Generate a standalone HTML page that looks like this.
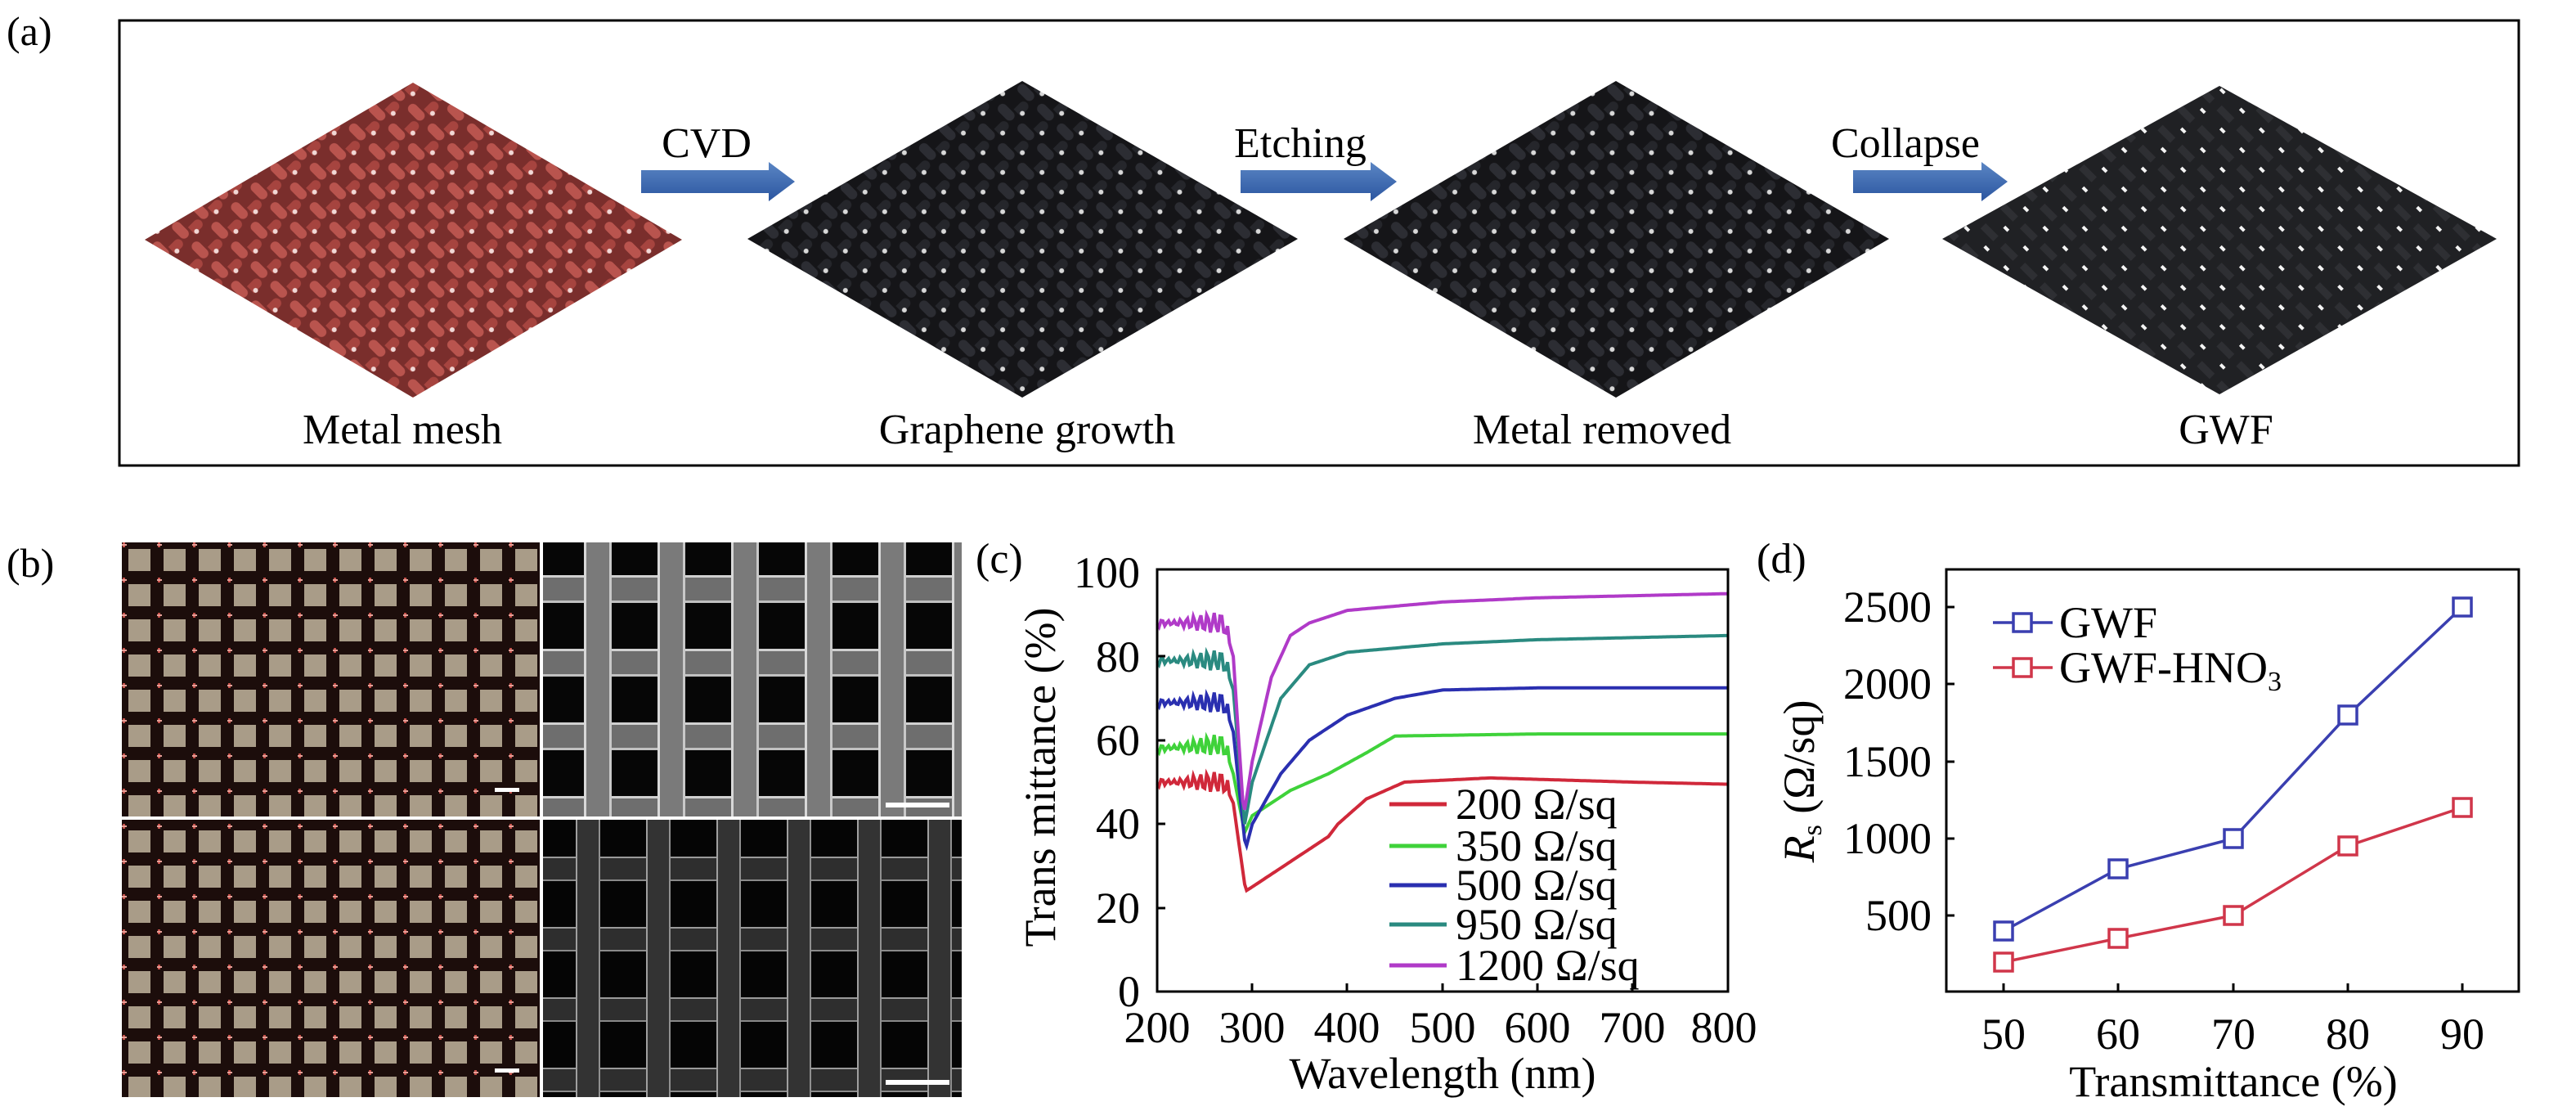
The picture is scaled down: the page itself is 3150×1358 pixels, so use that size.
<!DOCTYPE html>
<html><head><meta charset="utf-8"><style>
html,body{margin:0;padding:0;background:#fff;}
svg{display:block;}
</style></head><body>
<svg id="s" width="3150" height="1358" viewBox="0 0 3150 1358" xmlns="http://www.w3.org/2000/svg" font-family="Liberation Serif, serif">
<defs>
<pattern id="pr" width="34" height="34" patternUnits="userSpaceOnUse" patternTransform="rotate(45)">
<rect width="34" height="34" fill="#7a2e2c"/><rect x="3" y="3" width="24" height="12" rx="6" fill="#b9544e"/><rect x="19" y="17" width="12" height="24" rx="6" fill="#a6443f"/><circle cx="30" cy="30" r="3" fill="#f1d8d6"/></pattern>
<pattern id="pb" width="34" height="34" patternUnits="userSpaceOnUse" patternTransform="rotate(45)">
<rect width="34" height="34" fill="#151518"/><rect x="3" y="3" width="24" height="12" rx="6" fill="#2c2d33"/><rect x="19" y="17" width="12" height="24" rx="6" fill="#25262b"/><circle cx="30" cy="30" r="3" fill="#d8d8d8"/></pattern>
<pattern id="pg" width="34" height="34" patternUnits="userSpaceOnUse" patternTransform="rotate(45)">
<rect width="34" height="34" fill="#202124"/><rect x="6" y="6" width="22" height="9" fill="#2e2f33"/><rect x="25" y="25" width="7" height="4" fill="#f4f4f4"/></pattern>
<pattern id="opt" x="149" y="663" width="43" height="43" patternUnits="userSpaceOnUse">
<rect width="43" height="43" fill="#1c0d0b"/><rect x="8" y="8" width="27" height="27" fill="#a99c88"/><rect x="1" y="0" width="3" height="6" fill="#c4504a"/><rect x="0" y="2" width="6" height="2" fill="#e6a098"/></pattern>
<pattern id="sem" x="664" y="663" width="90" height="90" patternUnits="userSpaceOnUse">
<rect width="90" height="90" fill="#060606"/><rect x="0" y="40" width="90" height="34" fill="#6e6e6e"/><rect x="0" y="40" width="90" height="3" fill="#d0d0d0"/><rect x="0" y="71" width="90" height="3" fill="#c0c0c0"/><rect x="50" y="0" width="34" height="90" fill="#7a7a7a"/><rect x="50" y="0" width="3" height="90" fill="#d8d8d8"/><rect x="81" y="0" width="3" height="90" fill="#c8c8c8"/></pattern>
<pattern id="sem2" x="664" y="1002" width="86" height="86" patternUnits="userSpaceOnUse">
<rect width="86" height="86" fill="#050505"/><rect x="0" y="45" width="86" height="30" fill="#2e2e2e"/><rect x="0" y="45" width="86" height="2" fill="#9a9a9a"/><rect x="0" y="73" width="86" height="2" fill="#8a8a8a"/><rect x="40" y="0" width="30" height="86" fill="#333"/><rect x="40" y="0" width="2" height="86" fill="#a0a0a0"/><rect x="68" y="0" width="2" height="86" fill="#909090"/></pattern>
<linearGradient id="ag" x1="0" y1="0" x2="0" y2="1"><stop offset="0" stop-color="#5b86c4"/><stop offset="1" stop-color="#2b55a0"/></linearGradient>
</defs>
<!-- (a) -->
<text x="8" y="55" font-size="50">(a)</text>
<rect x="146" y="25" width="2934" height="544" fill="none" stroke="#000" stroke-width="3"/>
<polygon points="505,101 834,293 505,486 177,293" fill="url(#pr)"/>
<polygon points="1250,99 1587,292 1250,486 914,292" fill="url(#pb)"/>
<polygon points="1976,99 2310,292 1976,486 1643,292" fill="url(#pb)"/>
<polygon points="2714,105 3053,292 2714,482 2375,292" fill="url(#pg)"/>
<polygon points="784,208 940,208 940,198 972,222 940,246 940,236 784,236" fill="url(#ag)"/>
<polygon points="1517,208 1676,208 1676,198 1708,222 1676,246 1676,236 1517,236" fill="url(#ag)"/>
<polygon points="2266,208 2423,208 2423,198 2455,222 2423,246 2423,236 2266,236" fill="url(#ag)"/>
<g font-size="52" text-anchor="middle">
<text x="864" y="192">CVD</text><text x="1590" y="192">Etching</text><text x="2330" y="192">Collapse</text>
<text x="492" y="542">Metal mesh</text><text x="1256" y="542">Graphene growth</text><text x="1959" y="542">Metal removed</text><text x="2722" y="542">GWF</text>
</g>
<!-- (b) -->
<text x="8" y="705" font-size="50">(b)</text>
<rect x="149" y="663" width="511" height="335" fill="url(#opt)"/>
<rect x="149" y="1002" width="511" height="339" fill="url(#opt)"/>
<rect x="664" y="663" width="512" height="335" fill="url(#sem)"/>
<rect x="664" y="1002" width="512" height="339" fill="url(#sem2)"/>
<rect x="605" y="963" width="30" height="5" fill="#fff"/><rect x="605" y="1306" width="30" height="5" fill="#fff"/>
<rect x="1083" y="981" width="78" height="6" fill="#fff"/><rect x="1083" y="1320" width="78" height="6" fill="#fff"/>
<!-- (c) -->
<text x="1193" y="700" font-size="52">(c)</text>
<g id="cl" fill="none" stroke-width="4"></g>
<rect x="1415" y="696" width="698" height="516" fill="none" stroke="#000" stroke-width="3"/>
<g stroke="#000" stroke-width="3">
<line x1="1415" y1="1007" x2="1425" y2="1007"/><line x1="1415" y1="905" x2="1425" y2="905"/><line x1="1415" y1="802" x2="1425" y2="802"/><line x1="1415" y1="1110" x2="1425" y2="1110"/>
<line x1="1531" y1="1212" x2="1531" y2="1202"/><line x1="1647" y1="1212" x2="1647" y2="1202"/><line x1="1764" y1="1212" x2="1764" y2="1202"/><line x1="1880" y1="1212" x2="1880" y2="1202"/><line x1="1996" y1="1212" x2="1996" y2="1202"/>
</g>
<g font-size="54" text-anchor="end">
<text x="1394" y="718">100</text><text x="1394" y="821">80</text><text x="1394" y="923">60</text><text x="1394" y="1025">40</text><text x="1394" y="1128">20</text><text x="1394" y="1230">0</text>
</g>
<g font-size="54" text-anchor="middle">
<text x="1415" y="1274">200</text><text x="1531" y="1274">300</text><text x="1647" y="1274">400</text><text x="1764" y="1274">500</text><text x="1880" y="1274">600</text><text x="1996" y="1274">700</text><text x="2108" y="1274">800</text>
<text x="1764" y="1330">Wavelength (nm)</text>
<text transform="translate(1290,950) rotate(-90)">Trans mittance (%)</text>
</g>
<g stroke-width="5">
<line x1="1699" y1="983" x2="1769" y2="983" stroke="#d0283a"/><line x1="1699" y1="1034" x2="1769" y2="1034" stroke="#3fd23a"/><line x1="1699" y1="1082" x2="1769" y2="1082" stroke="#2a2fb0"/><line x1="1699" y1="1130" x2="1769" y2="1130" stroke="#2a8a80"/><line x1="1699" y1="1180" x2="1769" y2="1180" stroke="#b03ac8"/>
</g>
<g font-size="54">
<text x="1780" y="1001">200 Ω/sq</text><text x="1780" y="1052">350 Ω/sq</text><text x="1780" y="1100">500 Ω/sq</text><text x="1780" y="1148">950 Ω/sq</text><text x="1780" y="1198">1200 Ω/sq</text>
</g>
<!-- (d) -->
<text x="2148" y="700" font-size="52">(d)</text>
<rect x="2380" y="696" width="700" height="516" fill="none" stroke="#000" stroke-width="3"/>
<g stroke="#000" stroke-width="3">
<line x1="2380" y1="742" x2="2390" y2="742"/><line x1="2380" y1="836" x2="2390" y2="836"/><line x1="2380" y1="931" x2="2390" y2="931"/><line x1="2380" y1="1025" x2="2390" y2="1025"/><line x1="2380" y1="1119" x2="2390" y2="1119"/>
<line x1="2450" y1="1212" x2="2450" y2="1202"/><line x1="2590" y1="1212" x2="2590" y2="1202"/><line x1="2731" y1="1212" x2="2731" y2="1202"/><line x1="2871" y1="1212" x2="2871" y2="1202"/><line x1="3011" y1="1212" x2="3011" y2="1202"/>
</g>
<g font-size="54" text-anchor="end">
<text x="2362" y="760">2500</text><text x="2362" y="854">2000</text><text x="2362" y="949">1500</text><text x="2362" y="1043">1000</text><text x="2362" y="1137">500</text>
</g>
<g font-size="54" text-anchor="middle">
<text x="2450" y="1282">50</text><text x="2590" y="1282">60</text><text x="2731" y="1282">70</text><text x="2871" y="1282">80</text><text x="3011" y="1282">90</text>
<text x="2731" y="1340">Transmittance (%)</text>
</g>
<text transform="translate(2218,955) rotate(-90)" font-size="54" text-anchor="middle"><tspan font-style="italic">R</tspan><tspan font-size="34" dy="9">s</tspan><tspan dy="-9"> (Ω/sq)</tspan></text>
<g fill="none" stroke-width="3.5">
<polyline stroke="#3a3fb0" points="2450,1138 2590,1062 2731,1025 2871,874 3011,742"/>
<polyline stroke="#d0364a" points="2450,1176 2590,1147 2731,1119 2871,1034 3011,987"/>
<g stroke="#3a3fb0"><rect x="2439" y="1127" width="22" height="22" fill="#fff"/><rect x="2579" y="1051" width="22" height="22" fill="#fff"/><rect x="2720" y="1014" width="22" height="22" fill="#fff"/><rect x="2860" y="863" width="22" height="22" fill="#fff"/><rect x="3000" y="731" width="22" height="22" fill="#fff"/>
<line x1="2437" y1="761" x2="2510" y2="761"/><rect x="2462" y="750" width="22" height="22" fill="#fff"/></g>
<g stroke="#d0364a"><rect x="2439" y="1165" width="22" height="22" fill="#fff"/><rect x="2579" y="1136" width="22" height="22" fill="#fff"/><rect x="2720" y="1108" width="22" height="22" fill="#fff"/><rect x="2860" y="1023" width="22" height="22" fill="#fff"/><rect x="3000" y="976" width="22" height="22" fill="#fff"/>
<line x1="2437" y1="816" x2="2510" y2="816"/><rect x="2462" y="805" width="22" height="22" fill="#fff"/></g>
</g>
<g font-size="54"><text x="2518" y="779">GWF</text><text x="2518" y="834">GWF-HNO<tspan font-size="34" dy="10">3</tspan></text></g>
</svg>
<script>
(function(){
var X=function(w){return 1415+(w-200)*698/600;},Y=function(v){return 1212-5.12*v;};
var S=[["#d0283a",[[200,50],[270,50],[280,45],[293,24],[300,25],[340,31],[380,37],[390,40],[420,46],[460,50],[550,51],[700,50],[800,49.5]]],
["#3fd23a",[[200,58],[270,59],[280,52],[292,38],[300,42],[340,48],[380,52],[420,57],[450,61],[600,61.5],[800,61.5]]],
["#2a2fb0",[[200,69],[270,69],[280,62],[293,34],[300,40],[330,52],[360,60],[400,66],[450,70],[500,72],[600,72.5],[800,72.5]]],
["#2a8a80",[[200,79],[270,79],[280,72],[292,40],[300,50],[330,70],[360,78],[400,81],[500,83],[600,84],[800,85]]],
["#b03ac8",[[200,88],[270,88],[280,80],[291,42],[300,55],[320,75],[340,85],[360,88],[400,91],[500,93],[600,94],[800,95]]]];
var g=document.getElementById('cl'),ns="http://www.w3.org/2000/svg";
S.forEach(function(s){var p=s[1],pts=[];
for(var w=200;w<=800;w+=2){var i=0;while(i<p.length-2&&p[i+1][0]<w)i++;var a=p[i],b=p[i+1];var t=(w-a[0])/(b[0]-a[0]);var v=a[1]+t*(b[1]-a[1]);
if(w<275)v+=1.5*Math.sin(w*0.9)+1*Math.sin(w*2.3);pts.push(X(w).toFixed(1)+","+Y(v).toFixed(1));}
var pl=document.createElementNS(ns,'polyline');pl.setAttribute('points',pts.join(' '));pl.setAttribute('stroke',s[0]);g.appendChild(pl);});
})();
</script>
</body></html>
